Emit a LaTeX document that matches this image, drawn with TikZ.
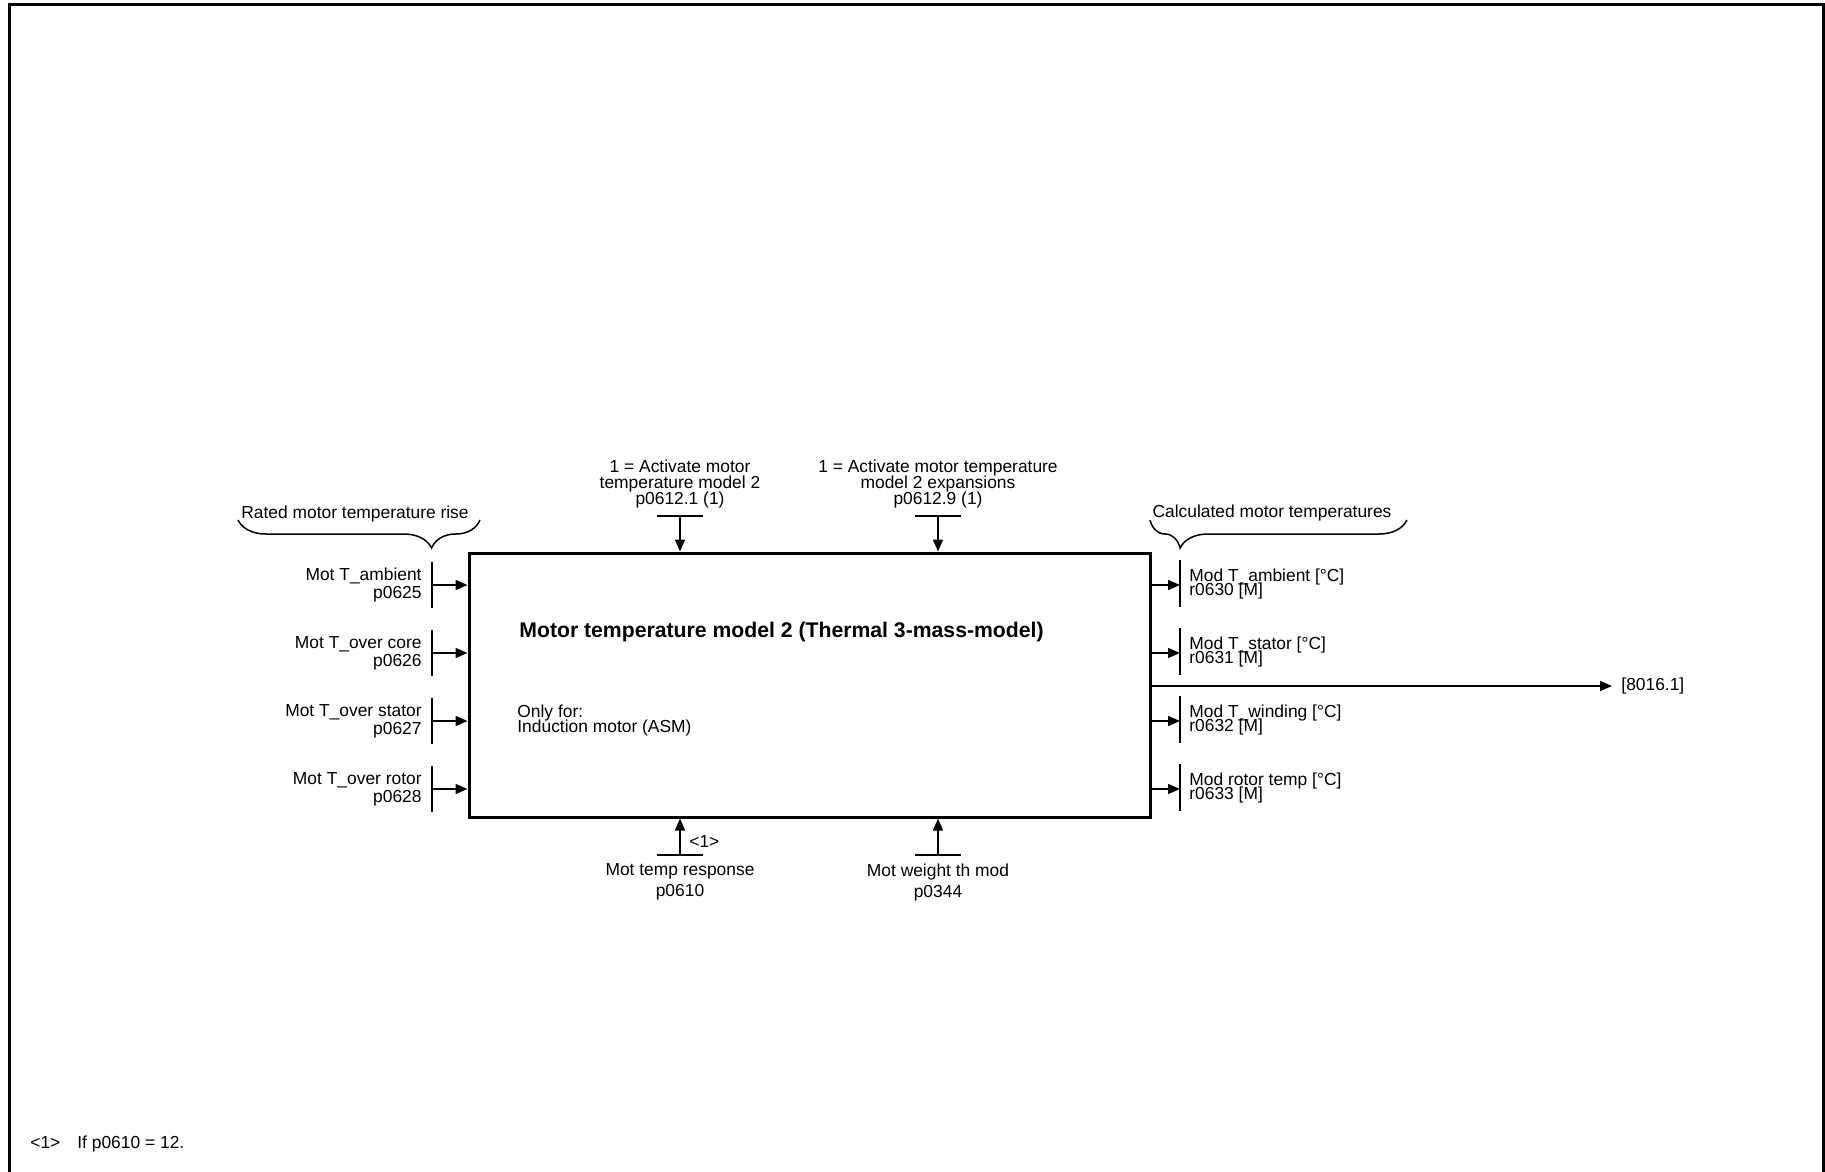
\documentclass[tikz,border=0pt]{standalone}
\usepackage{fontspec}
\setmainfont{Liberation Sans}
\usetikzlibrary{arrows.meta,decorations.pathreplacing}

\newcommand\tightfont[2]{\fontsize{#1}{#2}\selectfont\lineskiplimit=-20pt\relax}

\tikzset{
  sig/.style={line width=0.75pt,-{Triangle[length=6pt,width=5pt]}},
  bar/.style={line width=0.75pt},
  txt/.style={inner sep=0pt,font=\tightfont{8.7}{10}},
  lefttxt/.style={txt,align=right,anchor=east,font=\tightfont{8.7}{9}},
  righttxt/.style={txt,align=left,anchor=west,font=\tightfont{8.7}{7}},
  toptxt/.style={txt,align=center,anchor=south,font=\tightfont{8.7}{8}},
  bottxt/.style={txt,align=center,anchor=north,font=\tightfont{8.7}{10.5}},
  bracket/.style={line width=0.75pt,decorate,decoration={brace,mirror,amplitude=14pt,aspect=#1}},
  mainbox/.style={draw,line width=1.5pt,minimum width=340.5pt,minimum height=132pt,inner sep=0pt},
}

\begin{document}
\begin{tikzpicture}[x=0.5pt,y=-0.5pt]
\useasboundingbox (0,0) rectangle (1825,1172);
% sheet frame
\draw[line width=1.5pt] (9.5,1172) -- (9.5,4.5) -- (1823.5,4.5) -- (1823.5,1172);

% model block
\node[mainbox] (model) at (809.5,685) {};
\node[txt,anchor=base west,font=\fontsize{10.6}{12}\selectfont\bfseries] (title) at (519,637)
  {Motor temperature model 2 (Thermal 3-mass-model)};
\node[txt,align=left,anchor=north west,font=\tightfont{8.7}{7.5}] (onlyfor) at (517,704)
  {Only for:\\Induction motor (ASM)};

% inputs left
\node[txt,anchor=base] (risetxt) at (355,518) {Rated motor temperature rise};
\draw[bracket=0.8] (238,520) -- (480,520);

\coordinate (inA) at (432,585);
\coordinate (inB) at (432,653);
\coordinate (inC) at (432,721);
\coordinate (inD) at (432,789);
\draw[bar] (inA) ++(0,-23) -- ++(0,46);
\draw[bar] (inB) ++(0,-23) -- ++(0,46);
\draw[bar] (inC) ++(0,-23) -- ++(0,46);
\draw[bar] (inD) ++(0,-23) -- ++(0,46);
\draw[sig] (inA) -- (inA -| model.west);
\draw[sig] (inB) -- (inB -| model.west);
\draw[sig] (inC) -- (inC -| model.west);
\draw[sig] (inD) -- (inD -| model.west);
\node[lefttxt] (inAtxt) at (422,585) {Mot T\_ambient\\p0625};
\node[lefttxt] (inBtxt) at (422,653) {Mot T\_over core\\p0626};
\node[lefttxt] (inCtxt) at (422,721) {Mot T\_over stator\\p0627};
\node[lefttxt] (inDtxt) at (422,789) {Mot T\_over rotor\\p0628};

% inputs top
\coordinate (actA) at (680,516);
\coordinate (actB) at (938,516);
\draw[bar] (actA) ++(-23,0) -- ++(46,0);
\draw[bar] (actB) ++(-23,0) -- ++(46,0);
\draw[sig] (actA) -- (actA |- model.north);
\draw[sig] (actB) -- (actB |- model.north);
\node[toptxt] (actAtxt) at (680,509) {1 = Activate motor\\temperature model 2\\p0612.1 (1)};
\node[toptxt] (actBtxt) at (938,509) {1 = Activate motor temperature\\model 2 expansions\\p0612.9 (1)};

% inputs bottom
\coordinate (respIn) at (680,855);
\coordinate (weightIn) at (938,855);
\draw[bar] (respIn) ++(-23,0) -- ++(46,0);
\draw[bar] (weightIn) ++(-23,0) -- ++(46,0);
\draw[sig] (respIn) -- (respIn |- model.south);
\draw[sig] (weightIn) -- (weightIn |- model.south);
\node[txt,anchor=base west] (note1) at (689,847) {<1>};
\node[bottxt] (respTxt) at (680,863.5) {Mot temp response\\p0610};
\node[bottxt] (weightTxt) at (938,863.5) {Mot weight th mod\\p0344};

% outputs right
\node[txt,anchor=base] (calctxt) at (1272,517) {Calculated motor temperatures};
\draw[bracket=0.117] (1150,520) -- (1407,520);

\coordinate (outA) at (1180,585);
\coordinate (outB) at (1180,653);
\coordinate (outC) at (1180,721);
\coordinate (outD) at (1180,789);
\draw[bar] (outA) ++(0,-25) -- ++(0,47);
\draw[bar] (outB) ++(0,-25) -- ++(0,47);
\draw[bar] (outC) ++(0,-25) -- ++(0,47);
\draw[bar] (outD) ++(0,-25) -- ++(0,47);
\draw[sig] (outA -| model.east) -- (outA);
\draw[sig] (outB -| model.east) -- (outB);
\draw[sig] (outC -| model.east) -- (outC);
\draw[sig] (outD -| model.east) -- (outD);
\node[righttxt] (outAtxt) at (1189,583.5) {Mod T\_ambient [°C]\\r0630 [M]};
\node[righttxt] (outBtxt) at (1189,651.5) {Mod T\_stator [°C]\\r0631 [M]};
\node[righttxt] (outCtxt) at (1189,719.5) {Mod T\_winding [°C]\\r0632 [M]};
\node[righttxt] (outDtxt) at (1189,787.5) {Mod rotor temp [°C]\\r0633 [M]};

\coordinate (xref) at (1612,686);
\draw[sig] (xref -| model.east) -- (xref);
\node[txt,anchor=west] (xreftxt) at (1621,686) {[8016.1]};

% footnote
\node[txt,anchor=base west] (fnmark) at (30,1148) {<1>};
\node[txt,anchor=base west] (fntxt) at (77,1148) {If p0610 = 12.};
\end{tikzpicture}
\end{document}
